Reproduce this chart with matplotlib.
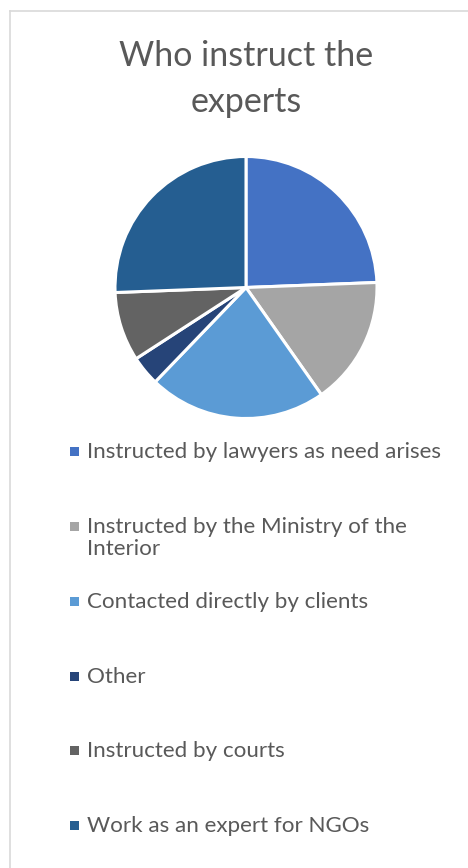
import matplotlib
matplotlib.use("Agg")
import matplotlib.pyplot as plt
from matplotlib.patches import Rectangle
from matplotlib.lines import Line2D

title = "Who instruct the\nexperts"
categories = [
    "Instructed by lawyers as need arises",
    "Instructed by the Ministry of the\nInterior",
    "Contacted directly by clients",
    "Other",
    "Instructed by courts",
    "Work as an expert for NGOs",
]
values = [20, 13, 18, 3, 7, 21]
colors = ["#4472C4", "#A5A5A5", "#5B9BD5", "#264478", "#636363", "#255E91"]

W, H = 468, 868
fig = plt.figure(figsize=(W / 100, H / 100), dpi=100)
fig.patch.set_facecolor("white")

def fx(px):
    return px / W

def fy(py):
    return 1 - py / H

# border (only left and top visible in reference)
fig.add_artist(Line2D([fx(9.5), fx(9.5)], [fy(11), fy(870)], color="#D9D9D9", lw=1.2))
fig.add_artist(Line2D([fx(9.5), fx(470)], [fy(11), fy(11)], color="#D9D9D9", lw=1.2))

# title
fig.text(fx(246), fy(79), title, ha="center", va="center", fontsize=24.5,
         color="#595959", family="Lato", linespacing=1.5)

# pie
cx, cy, r = 246, 287.5, 131
ax = fig.add_axes([fx(cx - r), fy(cy + r), (2 * r) / W, (2 * r) / H])
ax.pie(values, colors=colors, startangle=90, counterclock=False,
       wedgeprops=dict(edgecolor="white", linewidth=2.2))
ax.set_aspect("auto")
ax.set_xlim(-1, 1)
ax.set_ylim(-1, 1)
ax.axis("off")

# legend (manual slots)
slot_y = [451.5, 526, 601, 676, 750.5, 825.5]
for lab, col, y in zip(categories, colors, slot_y):
    fig.add_artist(Rectangle((fx(70), fy(y + 4.5)), 9 / W, 9 / H,
                             facecolor=col, edgecolor="none",
                             transform=fig.transFigure))
    fig.text(fx(87), fy(y - 9.3), lab, ha="left", va="top", fontsize=16.1,
             color="#595959", family="Lato", linespacing=1.16)

fig.savefig("out.png", dpi=100, facecolor="white")
